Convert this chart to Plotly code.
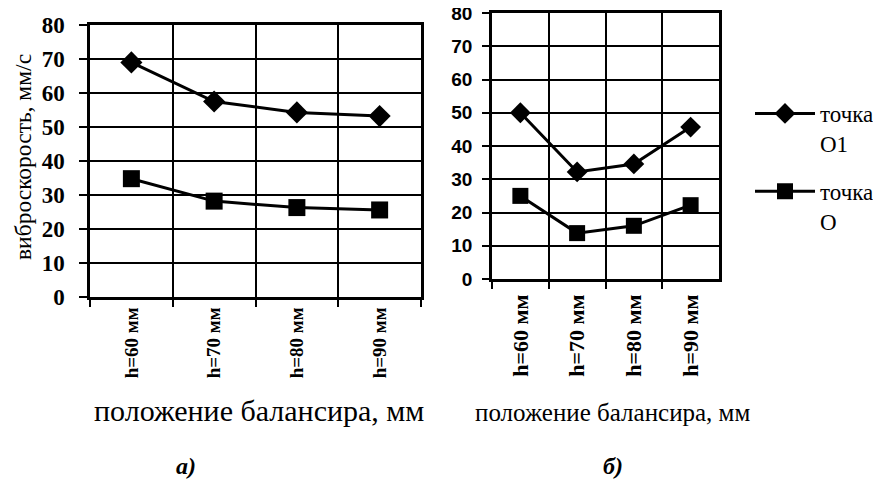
import plotly.graph_objects as go

categories = ["h=60 мм", "h=70 мм", "h=80 мм", "h=90 мм"]
a_O1 = [69, 57.5, 54.3, 53.2]
a_O = [34.8, 28.2, 26.3, 25.6]
b_O1 = [50, 32.2, 34.6, 45.7]
b_O = [25, 13.8, 16, 22.2]
y_ticks = [0, 10, 20, 30, 40, 50, 60, 70, 80]
series_names = ["точка<br>O1", "точка<br>O"]

# page is 881x483; the html body adds an 8px margin at top-left
W, H, OFF = 881, 483, 8
FW, FH = W - OFF, H - OFF
SERIF = "Liberation Serif"
SANS = "Liberation Sans"

fig = go.Figure()

def add(x, y, name, symbol, size, xa, ya, show):
    fig.add_trace(go.Scatter(
        x=x, y=y, name=name, mode="lines+markers",
        line=dict(color="black", width=3),
        marker=dict(symbol=symbol, size=size, color="black"),
        xaxis=xa, yaxis=ya, showlegend=show, legendgroup=name,
    ))

add(categories, a_O1, series_names[0], "diamond", 17, "x", "y", False)
add(categories, a_O, series_names[1], "square", 17, "x", "y", False)
add(categories, b_O1, series_names[0], "diamond", 16, "x2", "y2", True)
add(categories, b_O, series_names[1], "square", 16, "x2", "y2", True)

def px(v):
    return (v - OFF) / FW

def py(v):
    return 1 - (v - OFF) / FH

common_x = dict(
    type="category", range=[-0.5, 3.5], tickson="boundaries",
    showgrid=True, gridcolor="black", gridwidth=1.5,
    showline=True, linecolor="black", linewidth=2.5, mirror=True,
    ticks="outside", ticklen=7, tickwidth=1.5, tickcolor="black",
    tickangle=-90, zeroline=False, automargin=False,
)
common_y = dict(
    range=[0, 80], tickvals=y_ticks,
    showgrid=True, gridcolor="black", gridwidth=1.5,
    showline=True, linecolor="black", linewidth=2.5, mirror=True,
    ticks="outside", ticklen=8, tickwidth=1.5, tickcolor="black",
    zeroline=False, automargin=False, ticklabeloverflow="allow",
)

fig.update_layout(
    width=FW, height=FH,
    margin=dict(l=0, r=0, t=0, b=0, autoexpand=False),
    paper_bgcolor="white", plot_bgcolor="white",
    xaxis=dict(common_x, domain=[px(90), px(421)], anchor="y",
               tickfont=dict(family=SERIF, size=19, color="black", weight="bold")),
    yaxis=dict(common_y, domain=[py(297), py(25)], anchor="x",
               ticklabelstandoff=10,
               tickfont=dict(family=SERIF, size=23, color="black", weight="bold")),
    xaxis2=dict(common_x, domain=[px(492), px(719)], anchor="y2",
                ticklabelstandoff=4,
                tickfont=dict(family=SERIF, size=22, color="black", weight="bold")),
    yaxis2=dict(common_y, domain=[py(279), py(13)], anchor="x2",
                ticklen=7, ticklabelstandoff=6,
                tickfont=dict(family=SANS, size=19, color="black", weight="bold")),
    legend=dict(
        x=px(750), y=py(92), xanchor="left", yanchor="top",
        font=dict(family=SERIF, size=23, color="black"),
        valign="top", bgcolor="rgba(0,0,0,0)", itemwidth=60,
        tracegroupgap=15,
    ),
    showlegend=True,
)

annots = [
    dict(text="виброскорость, мм/с", x=px(23), y=py(157), textangle=-90,
         font=dict(family=SERIF, size=23.5, color="black")),
    dict(text="положение балансира, мм", x=px(259), y=py(410),
         font=dict(family=SERIF, size=30, color="black")),
    dict(text="положение балансира, мм", x=px(612), y=py(412),
         font=dict(family=SERIF, size=25, color="black")),
    dict(text="а)", x=px(186), y=py(466),
         font=dict(family=SERIF, size=24, color="black", style="italic", weight="bold")),
    dict(text="б)", x=px(613), y=py(466),
         font=dict(family=SERIF, size=24, color="black", style="italic", weight="bold")),
]
for a in annots:
    fig.add_annotation(xref="paper", yref="paper", xanchor="center", yanchor="middle",
                       showarrow=False, **a)

fig.write_html("out.html")
